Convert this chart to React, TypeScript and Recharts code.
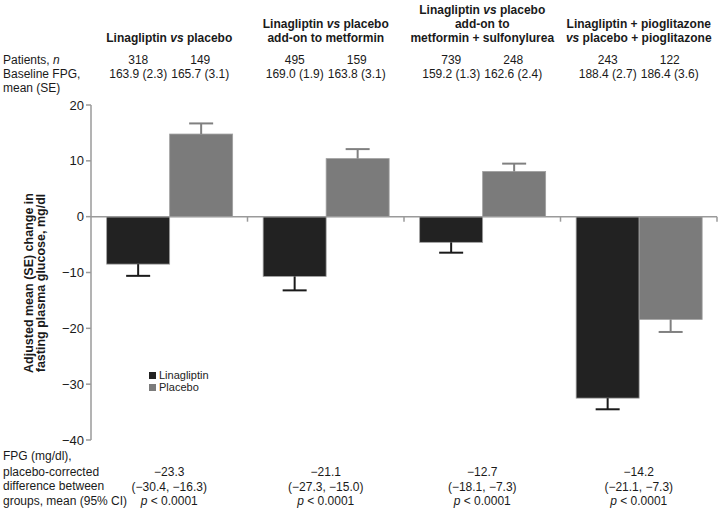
import React from 'react';
import { BarChart, Bar, XAxis, YAxis, ReferenceLine, Legend } from 'recharts';

// study arms (one category per trial)
const trials = ['mono', 'met', 'metSu', 'pio'];
const linagliptin = [-8.5, -10.7, -4.6, -32.5];
const linagliptinSE = [2.1, 2.5, 1.85, 2.0];
const placebo = [14.8, 10.4, 8.1, -18.4];
const placeboSE = [1.9, 1.7, 1.4, 2.25];
const yTicks = [-40, -30, -20, -10, 0, 10, 20];

const patientsLina = ['318', '495', '739', '243'];
const patientsPbo = ['149', '159', '248', '122'];
const baselineLina = ['163.9 (2.3)', '169.0 (1.9)', '159.2 (1.3)', '188.4 (2.7)'];
const baselinePbo = ['165.7 (3.1)', '163.8 (3.1)', '162.6 (2.4)', '186.4 (3.6)'];
const diffMean = ['\u221223.3', '\u221221.1', '\u221212.7', '\u221214.2'];
const diffCI = ['(\u221230.4, \u221216.3)', '(\u221227.3, \u221215.0)', '(\u221218.1, \u22127.3)', '(\u221221.1, \u22127.3)'];

const data = trials.map((name, i) => ({
  name,
  idx: i + 0.5,
  lina: linagliptin[i],
  linaSE: linagliptinSE[i],
  pbo: placebo[i],
  pboSE: placeboSE[i],
}));

const FONT = '"Liberation Sans", Arial, sans-serif';
const W = 720;
const H = 517;
const PLOT_LEFT = 91;
const PLOT_RIGHT = 717;
const colW = (PLOT_RIGHT - PLOT_LEFT) / trials.length;
const centers = trials.map((_, i) => PLOT_LEFT + colW * (i + 0.5));

const minus = (v: number) => String(v).replace('-', '\u2212');

function barWithError(valueKey: string, errKey: string, fill: string, errColor: string) {
  return (props: any) => {
    const { x, y, width, height, payload } = props;
    const v = payload[valueKey];
    const e = payload[errKey];
    const top = Math.min(y, y + height);
    const bottom = Math.max(y, y + height);
    const h = bottom - top;
    const ppu = v !== 0 ? h / Math.abs(v) : 0;
    const cx = x + width / 2;
    const start = v >= 0 ? top : bottom;
    const end = v >= 0 ? top - e * ppu : bottom + e * ppu;
    return (
      <g>
        <rect x={x} y={top} width={width} height={h} fill={fill} stroke="#a0a0a0" strokeWidth={0.8} />
        <line x1={cx} x2={cx} y1={start} y2={end} stroke={errColor} strokeWidth={2} />
        <line x1={cx - 12} x2={cx + 12} y1={end} y2={end} stroke={errColor} strokeWidth={2} />
      </g>
    );
  };
}

function LegendList({ payload }: any) {
  return (
    <div style={{ fontFamily: FONT, fontSize: 11, lineHeight: '12px', color: '#222' }}>
      {(payload || []).map((p: any) => (
        <div key={p.value} style={{ display: 'flex', alignItems: 'center' }}>
          <span style={{ display: 'inline-block', width: 7, height: 7, background: p.color, marginRight: 3 }} />
          {p.value}
        </div>
      ))}
    </div>
  );
}

// header lines per trial, bottom aligned
const headers: React.ReactNode[][] = [
  [<>Linagliptin <tspan fontStyle="italic">vs</tspan> placebo</>],
  [<>Linagliptin <tspan fontStyle="italic">vs</tspan> placebo</>, <>add-on to metformin</>],
  [<>Linagliptin <tspan fontStyle="italic">vs</tspan> placebo</>, <>add-on to</>, <>metformin + sulfonylurea</>],
  [<>Linagliptin + pioglitazone</>, <><tspan fontStyle="italic">vs</tspan> placebo + pioglitazone</>],
];

function Annotations() {
  const t = { fontFamily: FONT, fontSize: 12, fill: '#1a1a1a' } as any;
  return (
    <svg width={W} height={H} style={{ position: 'absolute', left: 0, top: 0, pointerEvents: 'none' }}>
      {headers.map((lines, i) =>
        lines.map((ln, j) => (
          <text key={`h${i}${j}`} x={centers[i]} y={38 - (lines.length - 1 - j) * 14} textAnchor="middle"
            dominantBaseline="central" style={{ ...t, fontWeight: 700, fontSize: 12 }}>{ln}</text>
        ))
      )}
      <text x={3} y={60} dominantBaseline="central" style={t}>Patients, <tspan fontStyle="italic">n</tspan></text>
      <text x={3} y={74} dominantBaseline="central" style={t}>Baseline FPG,</text>
      <text x={3} y={88} dominantBaseline="central" style={t}>mean (SE)</text>
      {centers.map((c, i) => (
        <g key={`p${i}`}>
          <text x={c - 31} y={60} textAnchor="middle" dominantBaseline="central" style={t}>{patientsLina[i]}</text>
          <text x={c + 31} y={60} textAnchor="middle" dominantBaseline="central" style={t}>{patientsPbo[i]}</text>
          <text x={c - 31} y={74} textAnchor="middle" dominantBaseline="central" style={t}>{baselineLina[i]}</text>
          <text x={c + 31} y={74} textAnchor="middle" dominantBaseline="central" style={t}>{baselinePbo[i]}</text>
        </g>
      ))}
      <text transform="translate(29,283) rotate(-90)" textAnchor="middle" dominantBaseline="central"
        style={{ ...t, fontWeight: 700, fontSize: 12.5 }}>Adjusted mean (SE) change in</text>
      <text transform="translate(41,283) rotate(-90)" textAnchor="middle" dominantBaseline="central"
        style={{ ...t, fontWeight: 700, fontSize: 12.5 }}>fasting plasma glucose, mg/dl</text>
      <text x={3} y={456} dominantBaseline="central" style={t}>FPG (mg/dl),</text>
      <text x={3} y={472} dominantBaseline="central" style={t}>placebo-corrected</text>
      <text x={3} y={486} dominantBaseline="central" style={t}>difference between</text>
      <text x={3} y={501} dominantBaseline="central" style={t}>groups, mean (95% CI)</text>
      {centers.map((c, i) => (
        <g key={`d${i}`}>
          <text x={c} y={472} textAnchor="middle" dominantBaseline="central" style={t}>{diffMean[i]}</text>
          <text x={c} y={487} textAnchor="middle" dominantBaseline="central" style={t}>{diffCI[i]}</text>
          <text x={c} y={501} textAnchor="middle" dominantBaseline="central" style={t}>
            <tspan fontStyle="italic">p</tspan> &lt; 0.0001
          </text>
        </g>
      ))}
    </svg>
  );
}

export default function App() {
  return (
    <div style={{ position: 'absolute', left: 0, top: 0, width: W, height: H, background: '#fff', fontFamily: FONT }}>
      <BarChart width={W} height={H} data={data} margin={{ top: 105, right: 3, bottom: 77, left: 51 }}
        barCategoryGap="10%" barGap={0}>
        <XAxis dataKey="name" hide />
        <XAxis xAxisId="num" type="number" dataKey="idx" domain={[0, 4]} hide allowDataOverflow />
        <YAxis width={40} domain={[-40, 20]} ticks={yTicks} tickFormatter={minus} interval={0}
          axisLine={{ stroke: '#9a9a9a', strokeWidth: 1.5 }} tickLine={{ stroke: '#9a9a9a', strokeWidth: 1.5 }}
          tickSize={5} tick={{ fill: '#1a1a1a', fontSize: 13, fontFamily: FONT }} />
        <ReferenceLine y={0} xAxisId="num" stroke="#9a9a9a" strokeWidth={1.5} />
        {[1, 2, 3, 4].map((b) => (
          <ReferenceLine key={b} xAxisId="num" stroke="#9a9a9a" strokeWidth={1.5}
            segment={[{ x: b, y: 0 }, { x: b, y: -0.9 }]} />
        ))}
        <Bar dataKey="lina" name="Linagliptin" fill="#222222" isAnimationActive={false}
          shape={barWithError('lina', 'linaSE', '#222222', '#1a1a1a')} />
        <Bar dataKey="pbo" name="Placebo" fill="#7b7b7b" isAnimationActive={false}
          shape={barWithError('pbo', 'pboSE', '#7b7b7b', '#808080')} />
        <Legend layout="horizontal" align="center" verticalAlign="middle" content={<LegendList />}
          wrapperStyle={{ left: 149, top: 369, width: 'auto' }} />
      </BarChart>
      <Annotations />
    </div>
  );
}
